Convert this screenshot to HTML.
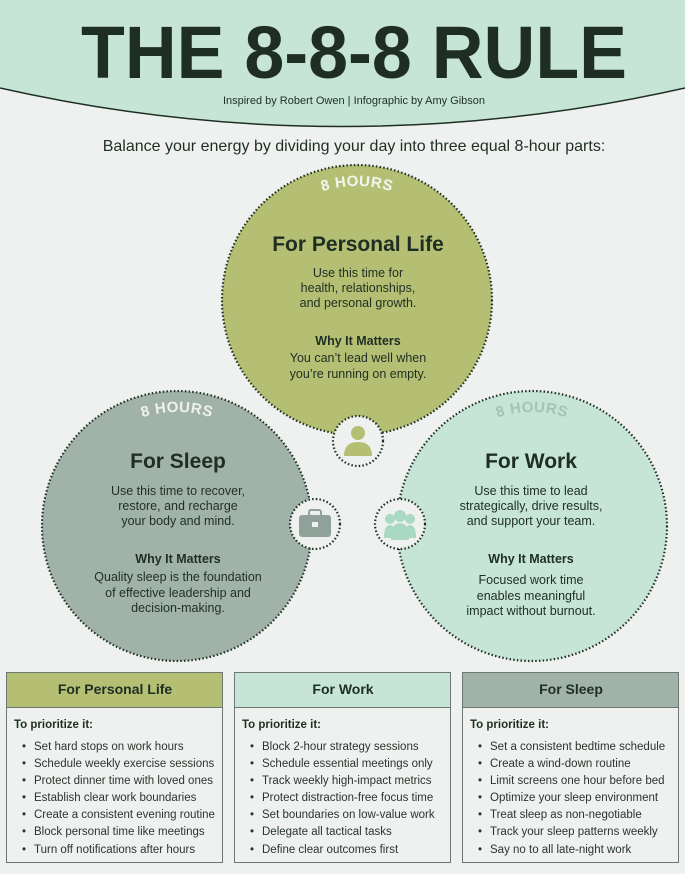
<!DOCTYPE html>
<html><head><meta charset="utf-8"><style>
body{margin:0;background:#eef1ef;}
svg{display:block;font-family:"Liberation Sans",sans-serif;}
</style></head><body>
<svg width="685" height="874" viewBox="0 0 685 874" xmlns="http://www.w3.org/2000/svg">
<rect width="685" height="874" fill="#eef1ef"/>
<path d="M0 0H685V88Q342 165 0 88Z" fill="#c6e5d6"/>
<path d="M0 88Q342 165 685 88" fill="none" stroke="#1f2e22" stroke-width="1.5"/>
<text x="354" y="78" font-size="74" font-weight="bold" fill="#1f2e22" text-anchor="middle" textLength="546" lengthAdjust="spacingAndGlyphs">THE 8-8-8 RULE</text>
<text x="354" y="104" font-size="11" fill="#1f2e22" text-anchor="middle">Inspired by Robert Owen | Infographic by Amy Gibson</text>
<text x="354" y="151" font-size="16" fill="#1f2e22" text-anchor="middle">Balance your energy by dividing your day into three equal 8-hour parts:</text>

<defs>
<path id="a1" d="M243 300A114 114 0 0 1 471 300"/>
<path id="a2" d="M63 526A114 114 0 0 1 291 526"/>
<path id="a3" d="M418 526A114 114 0 0 1 646 526"/>
</defs>
<g stroke="#1f2e22" stroke-width="2.2" stroke-dasharray="1.5 2.2">
<circle cx="357" cy="300" r="135" fill="#b4bf74"/>
<circle cx="177" cy="526" r="135" fill="#a1b3a8"/>
<circle cx="532" cy="526" r="135" fill="#c6e5d6"/>
<circle cx="358" cy="441" r="25" fill="#eef1ef"/>
<circle cx="315" cy="524" r="25" fill="#eef1ef"/>
<circle cx="400" cy="524" r="25" fill="#eef1ef"/>
</g>
<!-- icons -->
<circle cx="358" cy="433" r="7" fill="#b4bf74"/>
<path d="M344 456Q344 442 358 442Q372 442 372 456Z" fill="#b4bf74"/>
<rect x="299" y="515" width="32" height="22" rx="3" fill="#8fa198"/>
<rect x="309" y="510" width="12" height="6" rx="2" fill="none" stroke="#8fa198" stroke-width="2"/>
<rect x="312" y="522" width="6" height="5" fill="#eef1ef"/>
<g fill="#a9d8c3"><circle cx="400" cy="516" r="6"/><circle cx="390" cy="519" r="5"/><circle cx="410" cy="519" r="5"/>
<path d="M384 538Q384 525 390 525Q396 525 396 538Z"/><path d="M404 538Q404 525 410 525Q416 525 416 538Z"/><path d="M391 540Q391 523 400 523Q409 523 409 540Z"/></g>

<g font-size="15" font-weight="bold" letter-spacing="0.5">
<text fill="#f3f6ee" text-anchor="middle"><textPath href="#a1" startOffset="50%">8 HOURS</textPath></text>
<text fill="#eef1ef" text-anchor="middle"><textPath href="#a2" startOffset="50%">8 HOURS</textPath></text>
<text fill="#a6c3b5" text-anchor="middle"><textPath href="#a3" startOffset="50%">8 HOURS</textPath></text>
</g>

<g fill="#1f2e22" text-anchor="middle">
<g font-size="21" font-weight="bold">
<text x="358" y="251">For Personal Life</text>
<text x="178" y="468">For Sleep</text>
<text x="531" y="468">For Work</text>
</g>
<g font-size="12.5">
<text x="358" y="277">Use this time for</text>
<text x="358" y="292">health, relationships,</text>
<text x="358" y="307">and personal growth.</text>
<text x="358" y="345" font-weight="bold">Why It Matters</text>
<text x="358" y="362">You can’t lead well when</text>
<text x="358" y="378">you’re running on empty.</text>
<text x="178" y="495">Use this time to recover,</text>
<text x="178" y="510">restore, and recharge</text>
<text x="178" y="525">your body and mind.</text>
<text x="178" y="563" font-weight="bold">Why It Matters</text>
<text x="178" y="581">Quality sleep is the foundation</text>
<text x="178" y="597">of effective leadership and</text>
<text x="178" y="612">decision-making.</text>
<text x="531" y="495">Use this time to lead</text>
<text x="531" y="510">strategically, drive results,</text>
<text x="531" y="525">and support your team.</text>
<text x="531" y="563" font-weight="bold">Why It Matters</text>
<text x="531" y="584">Focused work time</text>
<text x="531" y="600">enables meaningful</text>
<text x="531" y="615">impact without burnout.</text>
</g>
</g>

<!-- boxes -->
<g stroke="#6e7872" stroke-width="1">
<rect x="6.5" y="672.5" width="216" height="190" fill="#eef1ef"/>
<rect x="6.5" y="672.5" width="216" height="35" fill="#b4bf74"/>
<rect x="234.5" y="672.5" width="216" height="190" fill="#eef1ef"/>
<rect x="234.5" y="672.5" width="216" height="35" fill="#c6e5d6"/>
<rect x="462.5" y="672.5" width="216" height="190" fill="#eef1ef"/>
<rect x="462.5" y="672.5" width="216" height="35" fill="#a1b3a8"/>
</g>
<g fill="#1f2e22">
<g font-size="14" font-weight="bold" text-anchor="middle">
<text x="115" y="694">For Personal Life</text>
<text x="343" y="694">For Work</text>
<text x="571" y="694">For Sleep</text>
</g>
<g font-size="11.5" font-weight="bold">
<text x="14" y="728">To prioritize it:</text>
<text x="242" y="728">To prioritize it:</text>
<text x="470" y="728">To prioritize it:</text>
</g>
<g font-size="11.5" fill="#2a352d">
<text x="22" y="750">• <tspan x="34">Set hard stops on work hours</tspan></text>
<text x="22" y="767">• <tspan x="34">Schedule weekly exercise sessions</tspan></text>
<text x="22" y="784">• <tspan x="34">Protect dinner time with loved ones</tspan></text>
<text x="22" y="801">• <tspan x="34">Establish clear work boundaries</tspan></text>
<text x="22" y="818">• <tspan x="34">Create a consistent evening routine</tspan></text>
<text x="22" y="835">• <tspan x="34">Block personal time like meetings</tspan></text>
<text x="22" y="853">• <tspan x="34">Turn off notifications after hours</tspan></text>
<text x="250" y="750">• <tspan x="262">Block 2-hour strategy sessions</tspan></text>
<text x="250" y="767">• <tspan x="262">Schedule essential meetings only</tspan></text>
<text x="250" y="784">• <tspan x="262">Track weekly high-impact metrics</tspan></text>
<text x="250" y="801">• <tspan x="262">Protect distraction-free focus time</tspan></text>
<text x="250" y="818">• <tspan x="262">Set boundaries on low-value work</tspan></text>
<text x="250" y="835">• <tspan x="262">Delegate all tactical tasks</tspan></text>
<text x="250" y="853">• <tspan x="262">Define clear outcomes first</tspan></text>
<text x="478" y="750">• <tspan x="490">Set a consistent bedtime schedule</tspan></text>
<text x="478" y="767">• <tspan x="490">Create a wind-down routine</tspan></text>
<text x="478" y="784">• <tspan x="490">Limit screens one hour before bed</tspan></text>
<text x="478" y="801">• <tspan x="490">Optimize your sleep environment</tspan></text>
<text x="478" y="818">• <tspan x="490">Treat sleep as non-negotiable</tspan></text>
<text x="478" y="835">• <tspan x="490">Track your sleep patterns weekly</tspan></text>
<text x="478" y="853">• <tspan x="490">Say no to all late-night work</tspan></text>
</g>
</g>
</svg>
</body></html>
